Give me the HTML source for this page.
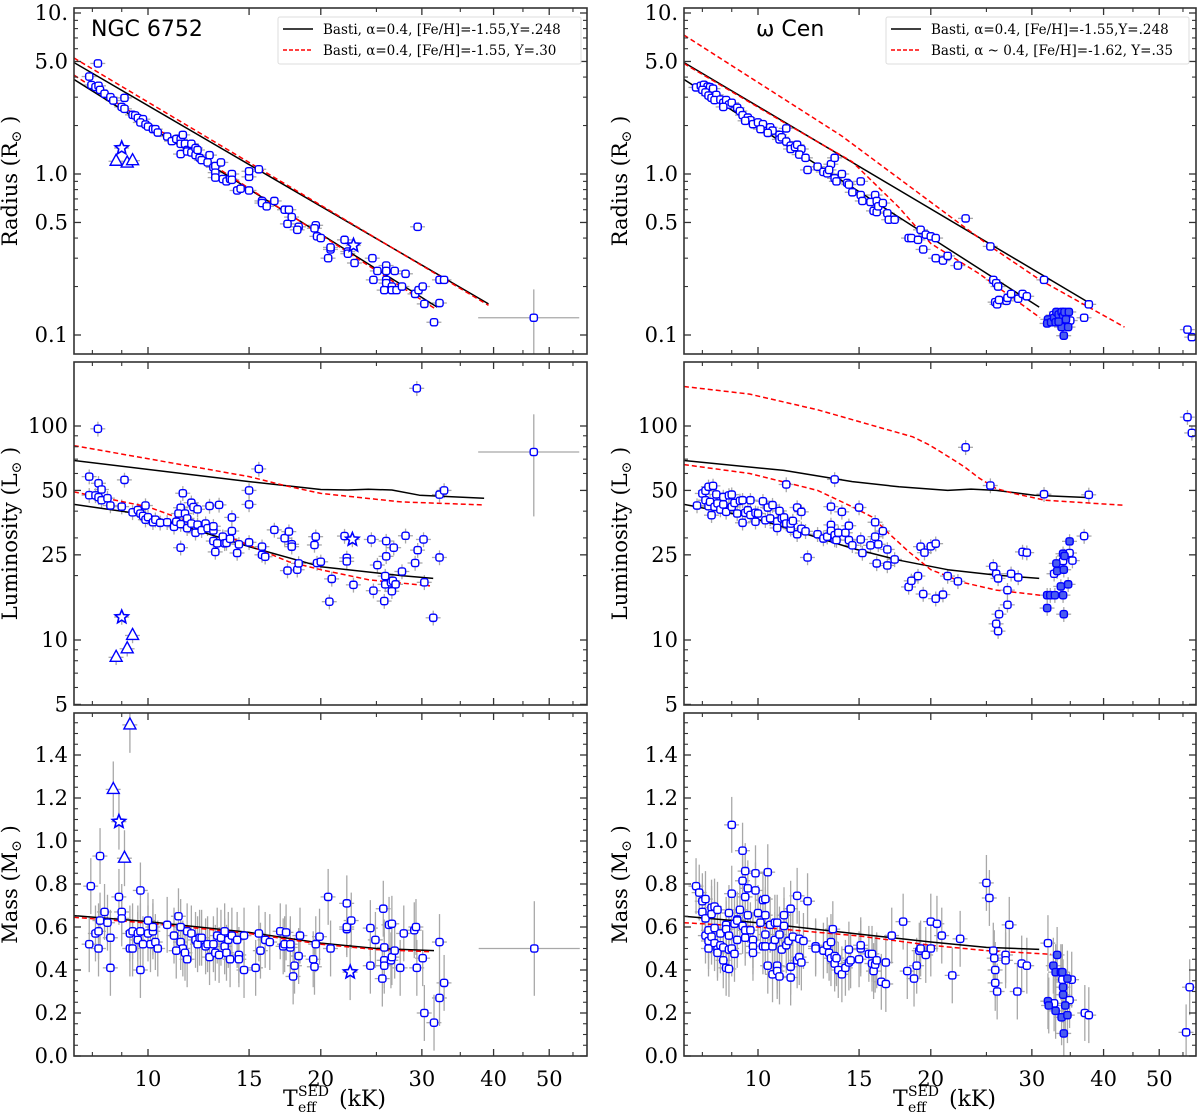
<!DOCTYPE html>
<html><head><meta charset="utf-8"><style>
html,body{margin:0;padding:0;background:#fff;}
svg{display:block;}
text{font-family:"DejaVu Serif","Liberation Serif",serif;fill:#000;}
</style></head><body>
<svg id="chart" width="1200" height="1114" viewBox="0 0 1200 1114" xmlns="http://www.w3.org/2000/svg"></svg>
<script>
// ---------------- DATA ----------------
const ngcRadius = [[8.18,4.86],[7.9,4.03],[7.97,3.57],[8.1,3.47],[8.2,3.53],[8.25,3.33],[8.4,3.15],[8.6,3.0],[8.7,2.86],[9.1,2.97],[9.0,2.61],[9.1,2.54],[9.4,2.33],[9.5,2.31],[9.6,2.23],[9.8,2.19],[9.7,2.09],[9.9,2.03],[10.0,1.97],[10.2,1.9],[10.3,1.9],[10.4,1.81],[10.8,1.71],[11.0,1.6],[11.2,1.65],[11.4,1.64],[11.5,1.75],[11.4,1.54],[11.4,1.33],[11.6,1.54],[11.7,1.41],[11.7,1.38],[11.9,1.54],[11.9,1.36],[12.1,1.45],[12.1,1.31],[12.2,1.41],[12.3,1.26],[12.4,1.22],[12.7,1.18],[12.8,1.31],[13.0,1.1],[13.1,1.12],[13.1,1.02],[13.1,0.95],[13.4,1.18],[13.5,0.93],[13.7,0.9],[13.9,0.93],[14.0,1.0],[14.0,0.92],[14.3,0.79],[14.5,0.81],[15.0,0.96],[15.0,1.04],[15.0,0.79],[15.6,1.07],[15.8,0.68],[15.8,0.66],[16.1,0.63],[16.6,0.68],[17.3,0.6],[17.6,0.6],[17.8,0.54],[17.5,0.49],[18.3,0.47],[18.2,0.45],[19.6,0.48],[19.5,0.46],[19.7,0.41],[20.0,0.4],[20.8,0.34],[20.8,0.35],[20.6,0.3],[22.0,0.39],[22.3,0.33],[22.3,0.32],[22.9,0.28],[24.6,0.3],[24.7,0.22],[25.1,0.25],[26,0.27],[26,0.25],[26,0.22],[26,0.21],[25.8,0.19],[26.6,0.2],[26.6,0.19],[26.9,0.25],[27.1,0.19],[27.7,0.2],[28.1,0.24],[29.2,0.18],[29.6,0.19],[29.5,0.47],[30.1,0.2],[30.3,0.156],[31.5,0.12],[32.2,0.158],[32.2,0.22],[32.8,0.22],[47,0.128]];
const ngcRadiusStars = [[9.0,1.45],[22.8,0.36]];
const ngcRadiusTri = [[8.8,1.2],[9.2,1.17],[9.4,1.21]];
const ngcRadBlackA = [[7.43,4.93],[39.2,0.156]];
const ngcRadRedA = [[7.43,5.26],[39.2,0.153]];
const ngcRadBlackB = [[7.43,3.87],[31.9,0.149]];
const ngcRadRedB = [[7.43,4.12],[31.6,0.146]];

const ngcLum = [[7.9,58],[8.18,97],[7.9,47.5],[8.1,47.4],[8.2,54],[8.3,50.5],[8.2,46.5],[8.3,45],[8.5,46],[8.6,42.5],[9.0,42],[9.1,56],[9.4,39.5],[9.6,40.5],[9.7,39],[9.9,42.5],[9.8,38],[9.9,36.5],[10,37.5],[10.2,35.5],[10.3,36.5],[10.5,35.3],[10.8,35.5],[11.1,33.8],[11.2,35.7],[11.4,34.8],[11.4,27],[11.4,41.5],[11.5,48.5],[11.3,39],[11.6,39],[11.7,37],[11.7,33.3],[11.9,43.8],[11.9,35],[12,41.8],[12.2,40.8],[12.1,31.7],[12.2,34.6],[12.4,32.6],[12.6,35],[12.7,33.3],[12.8,42.3],[13,32.5],[13,34],[13.3,42.8],[13,29],[13.2,28.3],[13.1,25.8],[13.5,30.4],[13.6,28.3],[13.7,28.4],[13.9,29.7],[14,37.4],[14,32.3],[14.3,25.5],[14.4,28],[15,50],[15,43],[15,28.6],[15.6,63],[15.8,27.3],[15.8,25],[16,24.5],[16.6,32.7],[17.3,29.9],[17.6,32.1],[17.8,28],[17.8,27.3],[17.5,21.1],[18.2,21.3],[18.3,22.8],[19.6,30.4],[19.5,27.8],[19.7,22.9],[20,23.2],[20.7,15.1],[20.9,19.3],[22,30.6],[22.2,24.2],[22.2,23.3],[22.8,18.1],[24.5,29.5],[24.7,17],[25.1,22.4],[25.8,15.2],[25.9,19.9],[25.9,18.2],[26,29],[26,24.6],[26.5,18.6],[26.6,16.9],[26.8,27],[26.7,18.9],[27,18.2],[27.7,20.9],[28.1,30.7],[29.2,22.9],[29.5,26.3],[29.4,150],[30.2,29.5],[30.3,18.6],[31.4,12.7],[32.2,47.8],[32.8,50],[32.2,24.3],[47,75.6]];
const ngcLumStars = [[9.0,12.8],[22.7,29.5]];
const ngcLumTri = [[8.8,8.3],[9.2,9.1],[9.4,10.5]];
const ngcLumBlackA = [[7.43,69],[15,55],[20,50.5],[22.3,50.2],[24.2,50.6],[26.6,50.2],[29.7,47.5],[38.5,46]];
const ngcLumRedA = [[7.43,81],[15,58],[17.4,52.5],[20,48.4],[27.6,44.2],[38.3,42.8]];
const ngcLumBlackB = [[7.43,43],[10,38.4],[15,27.3],[20,22],[27.6,20],[31.4,19.4]];
const ngcLumRedB = [[7.43,49.2],[10,41.9],[12.7,33.2],[15,27.7],[17.6,23.2],[20,21.3],[24.3,19.1],[31,17.9]];

const ngcMass = [[7.9,0.52],[7.95,0.79],[8.1,0.57],[8.2,0.5],[8.2,0.58],[8.25,0.63],[8.25,0.93],[8.4,0.67],[8.5,0.62],[8.6,0.55],[8.6,0.41],[8.9,0.74],[9.0,0.67],[9.0,0.64],[9.3,0.5],[9.3,0.57],[9.4,0.5],[9.4,0.58],[9.6,0.57],[9.6,0.54],[9.7,0.58],[9.7,0.77],[9.7,0.4],[9.8,0.52],[10,0.63],[10.0,0.57],[10.1,0.52],[10.2,0.58],[10.2,0.6],[10.3,0.53],[10.4,0.5],[10.8,0.61],[11.1,0.56],[11.3,0.65],[11.4,0.53],[11.4,0.6],[11.5,0.5],[11.6,0.48],[11.7,0.45],[11.2,0.49],[11.7,0.58],[11.9,0.57],[12.1,0.54],[12.2,0.52],[12.3,0.55],[12.4,0.55],[12.6,0.51],[12.7,0.52],[12.8,0.46],[13.0,0.52],[13.1,0.48],[13.2,0.56],[13.3,0.47],[13.4,0.55],[13.6,0.58],[13.6,0.51],[13.7,0.48],[13.8,0.54],[13.9,0.45],[14.0,0.56],[14.3,0.54],[14.4,0.47],[14.4,0.45],[14.7,0.56],[14.7,0.4],[15.4,0.41],[15.6,0.57],[15.7,0.49],[16.0,0.54],[16.3,0.53],[17.0,0.58],[17.2,0.51],[17.3,0.52],[17.4,0.575],[17.7,0.505],[17.7,0.52],[18.0,0.42],[17.9,0.37],[18.3,0.465],[18.4,0.56],[19.4,0.45],[19.5,0.415],[19.6,0.52],[19.9,0.555],[20.6,0.74],[20.8,0.5],[22.2,0.71],[22.2,0.59],[22.2,0.6],[22.6,0.63],[24.4,0.595],[24.4,0.42],[24.9,0.54],[25.6,0.36],[25.7,0.685],[25.8,0.505],[25.8,0.445],[25.8,0.42],[26.3,0.61],[26.6,0.615],[26.5,0.445],[26.6,0.46],[26.9,0.49],[27.5,0.41],[27.9,0.57],[29.1,0.585],[29.3,0.6],[29.4,0.41],[30.1,0.455],[30.3,0.2],[31.5,0.155],[32.2,0.53],[32.2,0.27],[32.8,0.34],[47.1,0.5]];
const ngcMassStars = [[8.9,1.09],[22.5,0.39]];
const ngcMassTri = [[8.7,1.24],[9.1,0.92],[9.3,1.54]];
const ngcMassBlack = [[7.43,0.653],[10,0.625],[15,0.575],[20,0.525],[25,0.5],[31.5,0.49]];
const ngcMassRed = [[7.43,0.645],[10,0.618],[15,0.57],[20,0.52],[25,0.495],[31,0.485]];

const ocRadius = [[7.8,3.45],[7.95,3.53],[8.05,3.58],[8.17,3.49],[8.25,3.46],[8.35,3.39],[8.0,3.33],[8.1,3.21],[8.2,3.07],[8.3,2.97],[8.46,3.1],[8.4,2.88],[8.6,2.9],[8.7,2.77],[8.8,2.88],[8.9,2.7],[9.0,2.77],[8.7,2.61],[9.2,2.58],[9.3,2.46],[9.4,2.32],[9.6,2.24],[9.7,2.16],[9.5,2.14],[9.8,2.04],[10.0,2.09],[10.2,2.04],[10.1,1.9],[10.5,1.95],[10.6,1.86],[10.4,1.8],[10.9,1.75],[10.9,1.64],[11.0,1.69],[11.2,1.92],[11.2,1.59],[11.4,1.5],[11.4,1.43],[11.6,1.47],[11.7,1.52],[11.9,1.43],[11.8,1.32],[12.1,1.26],[12.2,1.06],[12.7,1.11],[13.0,1.03],[13.2,1.01],[13.4,1.15],[13.3,1.06],[13.6,0.94],[13.7,0.9],[13.6,1.26],[14.0,1.0],[14.3,0.88],[14.4,0.86],[14.6,0.77],[15.1,0.9],[15.1,0.74],[15.2,0.68],[15.7,0.67],[16.0,0.74],[16.1,0.68],[15.9,0.59],[16.1,0.58],[16.2,0.63],[16.5,0.66],[16.8,0.57],[16.9,0.52],[17.3,0.52],[18.3,0.4],[18.5,0.4],[19.0,0.39],[19.2,0.45],[19.4,0.34],[19.6,0.42],[20,0.41],[20.4,0.4],[20.4,0.3],[21.0,0.29],[21.4,0.31],[22.3,0.27],[23.0,0.53],[25.4,0.355],[25.7,0.22],[26,0.21],[26.2,0.2],[25.9,0.16],[26.1,0.155],[26.3,0.165],[27.1,0.163],[27.2,0.17],[27.6,0.18],[28.4,0.168],[28.9,0.18],[29.4,0.174],[31.5,0.22],[37,0.128],[37.7,0.155],[56,0.108],[57,0.097],[32.7,0.133],[35,0.123]];
const ocRadiusFilled = [[32,0.125],[31.9,0.118],[32.4,0.12],[32.8,0.128],[33.1,0.139],[33.4,0.134],[33.8,0.139],[34,0.131],[34.2,0.139],[33.8,0.118],[34.4,0.125],[33.8,0.112],[34.7,0.112],[34.8,0.139],[34.1,0.099],[33.0,0.12],[33.4,0.121]];
const ocRadBlackA = [[7.43,4.93],[37.8,0.158]];
const ocRadRedA = [[7.43,7.3],[14,1.72],[25.4,0.355],[31,0.22],[43.5,0.112]];
const ocRadBlackB = [[7.43,3.87],[30.9,0.149]];
const ocRadRedB = [[7.43,4.86],[11.1,2.09],[14.6,1.19],[17.6,0.62],[20,0.37],[24.3,0.24],[31,0.128]];

const ocLum = [[7.83,42.5],[8.0,48.4],[8.1,49.8],[8.2,52],[8.35,52.5],[8.1,45],[8.2,42.2],[8.25,44.2],[8.4,41.9],[8.3,38.3],[8.46,47.9],[8.5,43.5],[8.6,40.7],[8.7,43],[8.7,46.6],[8.8,39.7],[8.9,47.4],[9.0,47.8],[9.0,41.9],[9.1,43.7],[9.2,39],[9.3,44.7],[9.4,45],[9.5,39.3],[9.4,35.3],[9.6,40.4],[9.7,45],[9.7,38.4],[9.9,35.7],[9.9,39.3],[10.0,39],[10.2,44.5],[10.3,36.3],[10.4,41.6],[10.5,37],[10.6,42.7],[10.8,35.8],[10.8,33.4],[10.9,40.1],[11.0,37],[11.1,37.4],[11.2,35],[11.4,33.1],[11.4,35],[11.5,36],[11.7,41.6],[11.7,31.2],[11.9,33.1],[11.9,39.7],[12.1,32.2],[12.2,24.3],[11.2,53.3],[12.7,31.2],[13.0,29.8],[13.2,30.4],[13.4,34.5],[13.4,32.4],[13.4,42],[13.6,29.5],[13.6,30.9],[13.7,29.3],[13.8,31.7],[14.0,39.7],[14.2,31.7],[14.4,34.2],[14.4,29.3],[14.6,27.7],[15.0,41.6],[15.1,29.5],[15.2,25.5],[13.6,56.3],[15.7,27.7],[16.0,35.5],[16.0,30.4],[16.1,22.8],[16.2,28],[16.5,32.3],[16.8,26.5],[16.8,22.3],[17.3,23.8],[18.3,17.7],[18.5,18.9],[19.0,19.9],[19.2,27.3],[19.5,25.6],[19.4,16.4],[20,27.4],[20.4,28.2],[20.4,15.6],[21.0,16.3],[21.4,19.9],[22.3,18.8],[23.0,79.5],[25.4,52.7],[25.7,22.1],[26,20.4],[26.2,19.4],[26.3,13.2],[26,11.9],[26.2,11],[27.2,17.1],[27.2,14.6],[27.6,20.4],[28.4,19.6],[28.9,25.8],[29.4,25.6],[31.5,48],[37.7,47.7],[37,30.6],[56,110],[57,92.8],[32.8,20.4],[34,23.4],[34.9,25.5],[35.3,23.5]];
const ocLumFilled = [[31.9,16.2],[32.3,16.2],[32.9,16.2],[31.9,14.1],[33.1,22.8],[33.2,21.0],[33.7,17.8],[34,16.2],[34.1,21.3],[34,25.3],[34.2,24.7],[34.7,18.2],[34.9,28.9],[34.1,13.2]];
const ocLumBlackA = [[7.43,69],[11.1,62],[14.6,55],[17.6,52],[21.4,50],[23.5,50.7],[26,50],[30.3,47.5],[37.8,46.3]];
const ocLumRedA = [[7.43,153],[9.67,141],[12.7,119],[16.6,97],[18.6,89],[19.8,82],[20.6,77],[21.8,70],[22.9,64.4],[24.3,57],[26,51],[27.9,48.4],[31.6,45],[43.5,42.6]];
const ocLumBlackB = [[7.43,43],[9.67,37.6],[11.8,32],[14.6,26.8],[17.6,23.6],[21.4,21.3],[26,20.1],[30.9,19.4]];
const ocLumRedB = [[7.43,66],[9.67,60],[12.7,50],[14.6,41.9],[15.8,37.6],[16.9,31.5],[18.3,25.9],[20,21.3],[22.9,18.5],[26,17.1],[31,16.2]];

const ocMass = [[7.8,0.79],[7.9,0.76],[8.0,0.72],[8.1,0.73],[8.0,0.67],[8.1,0.56],[8.1,0.64],[8.2,0.535],[8.2,0.5],[8.2,0.585],[8.3,0.69],[8.3,0.66],[8.3,0.555],[8.4,0.695],[8.4,0.525],[8.4,0.595],[8.5,0.495],[8.5,0.68],[8.5,0.48],[8.6,0.57],[8.6,0.515],[8.7,0.505],[8.7,0.445],[8.8,0.61],[8.8,0.41],[8.8,0.59],[8.9,0.665],[8.9,0.56],[8.9,0.495],[8.9,0.405],[9.0,1.075],[9.0,0.755],[9.0,0.5],[9.1,0.475],[9.1,0.615],[9.2,0.635],[9.2,0.54],[9.2,0.63],[9.3,0.68],[9.4,0.955],[9.4,0.605],[9.4,0.815],[9.5,0.55],[9.5,0.86],[9.5,0.74],[9.5,0.585],[9.6,0.78],[9.6,0.655],[9.7,0.585],[9.8,0.54],[9.8,0.51],[9.8,0.48],[9.9,0.85],[9.9,0.77],[10,0.665],[10.1,0.62],[10.2,0.51],[10.2,0.725],[10.3,0.565],[10.3,0.73],[10.3,0.655],[10.3,0.51],[10.4,0.855],[10.4,0.42],[10.5,0.61],[10.6,0.51],[10.6,0.38],[10.7,0.54],[10.7,0.62],[10.8,0.42],[10.8,0.62],[10.8,0.395],[10.9,0.37],[10.9,0.565],[11.0,0.495],[11.1,0.655],[11.1,0.605],[11.2,0.515],[11.3,0.535],[11.4,0.685],[11.4,0.415],[11.4,0.365],[11.5,0.555],[11.7,0.745],[11.7,0.445],[11.8,0.545],[11.8,0.46],[11.9,0.435],[12.0,0.535],[12.2,0.72],[12.6,0.51],[12.6,0.5],[13.0,0.49],[13.2,0.515],[13.3,0.48],[13.4,0.53],[13.4,0.455],[13.5,0.59],[13.6,0.465],[13.6,0.43],[13.7,0.455],[13.8,0.4],[14.0,0.38],[14.2,0.41],[14.4,0.495],[14.4,0.435],[14.5,0.445],[15.0,0.45],[15.1,0.5],[15.1,0.515],[15.6,0.475],[15.8,0.475],[15.8,0.43],[15.9,0.395],[16.0,0.425],[16.1,0.445],[16.4,0.345],[16.7,0.435],[16.7,0.335],[17.1,0.56],[17.9,0.625],[18.2,0.395],[18.7,0.36],[18.9,0.42],[19.1,0.49],[19.2,0.5],[19.6,0.47],[20.0,0.5],[20.0,0.625],[20.5,0.615],[20.9,0.56],[21.8,0.375],[22.5,0.545],[25.0,0.805],[25.3,0.735],[25.7,0.49],[25.8,0.455],[25.9,0.4],[25.9,0.34],[26.1,0.3],[27.0,0.47],[27.0,0.445],[27.4,0.61],[28.3,0.3],[28.8,0.43],[29.4,0.42],[32,0.525],[32.8,0.245],[37.1,0.2],[37.7,0.19],[56.5,0.32],[55.7,0.11],[33.9,0.355],[34.9,0.26],[35.2,0.355]];
const ocMassFilled = [[32,0.255],[32.1,0.235],[32.7,0.42],[33,0.39],[33.2,0.47],[33.7,0.39],[33.9,0.39],[34,0.32],[34,0.285],[34.3,0.235],[33,0.21],[33.8,0.18],[34.6,0.19],[34.1,0.105],[34.6,0.36]];
const ocMassBlack = [[7.43,0.65],[10,0.62],[15,0.567],[20,0.53],[25,0.505],[30.9,0.496]];
const ocMassRed = [[7.43,0.62],[10,0.6],[15,0.558],[20,0.515],[25,0.49],[32.4,0.473]];

const xMajor = [10,15,20,30,40,50];
const xMinor = [8,9,25,35,45,55];
const radTicks = [10,5,1,0.5,0.1];
const radLabels = ['10.','5.0','1.0','0.5','0.1'];
const lumTicks = [5,10,25,50,100];
const lumLabels = ['5','10','25','50','100'];
const massTicks = [0,0.2,0.4,0.6,0.8,1.0,1.2,1.4];
const massLabels = ['0.0','0.2','0.4','0.6','0.8','1.0','1.2','1.4'];

// ---------------- DRAWING ----------------
const NS='http://www.w3.org/2000/svg';
const svg=document.getElementById('chart');
const COLX=[74,684], COLW=[513,512];
const ROWY=[[8,354],[362,705],[713,1056]];
function xs(c,T){return COLX[c]+74+574*Math.log10(T/10);}
function ysRad(v){return 174-161*Math.log10(v);}
function ysLum(v){return 426-214*Math.log10(v/100);}
function ysMass(v){return 1056-215*v;}
const YS=[ysRad,ysLum,ysMass];
function mk(tag,attrs,parent){const e=document.createElementNS(NS,tag);for(const k in attrs)e.setAttribute(k,attrs[k]);(parent||svg).appendChild(e);return e;}

function clipFor(c,r){
  const id='clip'+c+r;
  const cp=mk('clipPath',{id:id});
  mk('rect',{x:COLX[c],y:ROWY[r][0],width:COLW[c],height:ROWY[r][1]-ROWY[r][0]},cp);
  return 'url(#'+id+')';
}

function drawErrors(g,c,r,pts,isLog){
  pts.forEach(p=>{
    const T=p[0],v=p[1];
    const big = T>45 && c===0;
    const ex = big?0.2:0.03, ey = isLog?(big?0.5:(r===1?0.08:0.03)):(big?0.22:0.13);
    const x=xs(c,T), y=YS[r](v);
    const ya = isLog?YS[r](v*(1+ey)):YS[r](v+ey), yb = isLog?YS[r](v*(1-ey)):YS[r](v-ey);
    const e1=mk('line',{x1:x,x2:x,y1:ya,y2:yb,stroke:'#a8a8a8','stroke-width':1.3},g);
    
    
    const e2=mk('line',{x1:xs(c,T*(1-ex)),x2:xs(c,T*(1+ex)),y1:y,y2:y,stroke:'#a8a8a8','stroke-width':1.3},g);
    
    
  });
}
function drawCurve(g,c,r,pts,red){
  const d=pts.map((p,i)=>(i?'L':'M')+xs(c,p[0]).toFixed(1)+','+YS[r](p[1]).toFixed(1)).join(' ');
  const el=mk('path',{d:d,fill:'none',stroke:red?'#ff0000':'#000','stroke-width':1.5,'stroke-dasharray':red?'5,3':'none','stroke-linejoin':'round'},g);
  
  
}
function starPath(x,y,R){let d='';for(let i=0;i<10;i++){const a=-Math.PI/2+i*Math.PI/5;const rr=i%2?R*0.45:R;d+=(i?'L':'M')+(x+rr*Math.cos(a)).toFixed(1)+','+(y+rr*Math.sin(a)).toFixed(1);}return d+'Z';}
function drawMarkers(g,c,r,pts,kind){
  pts.forEach(p=>{
    const x=xs(c,p[0]), y=YS[r](p[1]);
    let el;
    if(kind==='o'||kind==='f'){
      el=mk('rect',{x:x-3.6,y:y-3.6,width:7.2,height:7.2,rx:2.2,fill:kind==='f'?'#4a5cf0':'#fff',stroke:'#0000ff','stroke-width':1.4},g);
      
    } else if(kind==='s'){
      el=mk('path',{d:starPath(x,y,7),fill:'#fff',stroke:'#0000ff','stroke-width':1.6},g);
      
    } else {
      el=mk('path',{d:'M'+x+','+(y-7)+'L'+(x+6)+','+(y+4)+'L'+(x-6)+','+(y+4)+'Z',fill:'#fff',stroke:'#0000ff','stroke-width':1.4},g);
      
    }
    
  });
}

function drawAxes(c,r){
  const x0=COLX[c],x1=x0+COLW[c],y0=ROWY[r][0],y1=ROWY[r][1];
  const g=mk('g',{});
  
  
  mk('rect',{x:x0,y:y0,width:x1-x0,height:y1-y0,fill:'none',stroke:'#333','stroke-width':1.6},g);
  xMajor.forEach(t=>{const x=xs(c,t);mk('line',{x1:x,x2:x,y1:y1,y2:y1-7,stroke:'#333','stroke-width':1.3},g);mk('line',{x1:x,x2:x,y1:y0,y2:y0+7,stroke:'#333','stroke-width':1.3},g);
    if(r===2){const tl=mk('text',{x:x,y:y1+30,'font-size':21,'text-anchor':'middle'},g);tl.textContent=t;
      
      }});
  xMinor.forEach(t=>{const x=xs(c,t);if(x<x1){mk('line',{x1:x,x2:x,y1:y1,y2:y1-4,stroke:'#333','stroke-width':1.1},g);mk('line',{x1:x,x2:x,y1:y0,y2:y0+4,stroke:'#333','stroke-width':1.1},g);}});
  const ticks=[radTicks,lumTicks,massTicks][r], labels=[radLabels,lumLabels,massLabels][r];
  ticks.forEach((t,i)=>{const y=YS[r](t);
    mk('line',{x1:x0,x2:x0+7,y1:y,y2:y,stroke:'#333','stroke-width':1.3},g);mk('line',{x1:x1,x2:x1-7,y1:y,y2:y,stroke:'#333','stroke-width':1.3},g);
    const tl=mk('text',{x:x0-6,y:y+7,'font-size':21,'text-anchor':'end'},g);tl.textContent=labels[i];
    
    });
  let minors=[];
  if(r===0){[0.1,1].forEach(b=>[2,3,4,6,7,8,9].forEach(m=>minors.push(b*m)));}
  if(r===1){[6,7,8,9,20,30,40,60,70,80,90].forEach(m=>minors.push(m));}
  if(r===2){for(let k=1;k<32;k++){if(k%4)minors.push(k*0.05);}}
  minors.forEach(t=>{const y=YS[r](t);if(y>y0&&y<y1){mk('line',{x1:x0,x2:x0+4,y1:y,y2:y,stroke:'#333','stroke-width':1.1},g);mk('line',{x1:x1,x2:x1-4,y1:y,y2:y,stroke:'#333','stroke-width':1.1},g);}});
  const names=['Radius (R','Luminosity (L','Mass (M'];
  const cy=(y0+y1)/2, lx=x0-57;
  const yl=mk('text',{x:lx,y:cy,'font-size':21,'text-anchor':'middle',transform:'rotate(-90 '+lx+' '+cy+')'});
  
  
  const t1=mk('tspan',{},yl);t1.textContent=names[r];
  const t2=mk('tspan',{'font-size':14,dy:4},yl);t2.textContent='\u2299';
  const t3=mk('tspan',{dy:-4},yl);t3.textContent=' )';
}

const panels=[
 {c:0,r:0,pts:ngcRadius,sp:ngcRadiusStars,tri:ngcRadiusTri,curves:[[ngcRadBlackA,0],[ngcRadRedA,1],[ngcRadBlackB,0],[ngcRadRedB,1]],log:true},
 {c:0,r:1,pts:ngcLum,sp:ngcLumStars,tri:ngcLumTri,curves:[[ngcLumBlackA,0],[ngcLumRedA,1],[ngcLumBlackB,0],[ngcLumRedB,1]],log:true},
 {c:0,r:2,pts:ngcMass,sp:ngcMassStars,tri:ngcMassTri,curves:[[ngcMassBlack,0],[ngcMassRed,1]],log:false},
 {c:1,r:0,pts:ocRadius,fill:ocRadiusFilled,curves:[[ocRadBlackA,0],[ocRadRedA,1],[ocRadBlackB,0],[ocRadRedB,1]],log:true},
 {c:1,r:1,pts:ocLum,fill:ocLumFilled,curves:[[ocLumBlackA,0],[ocLumRedA,1],[ocLumBlackB,0],[ocLumRedB,1]],log:true},
 {c:1,r:2,pts:ocMass,fill:ocMassFilled,curves:[[ocMassBlack,0],[ocMassRed,1]],log:false}
];
const pnames=[['ngc6752-radius-panel','ngc6752-luminosity-panel','ngc6752-mass-panel'],['omega-cen-radius-panel','omega-cen-luminosity-panel','omega-cen-mass-panel']];
panels.forEach(P=>{
  const g=mk('g',{'clip-path':clipFor(P.c,P.r)});
  
  
  drawErrors(g,P.c,P.r,P.pts.concat(P.fill||[],P.sp||[],P.tri||[]),P.log);
  P.curves.forEach(cv=>drawCurve(g,P.c,P.r,cv[0],cv[1]));
  drawMarkers(g,P.c,P.r,P.pts,'o');
  if(P.fill)drawMarkers(g,P.c,P.r,P.fill,'f');
  if(P.sp)drawMarkers(g,P.c,P.r,P.sp,'s');
  if(P.tri)drawMarkers(g,P.c,P.r,P.tri,'t');
  drawAxes(P.c,P.r);
});

[0,1].forEach(c=>{
  const bx=COLX[c]+209, by=1106;
  const g=mk('g',{});
  
  
  const a=mk('text',{x:bx,y:by,'font-size':22},g);a.textContent='T';
  const b=mk('text',{x:bx+15,y:by-10,'font-size':14},g);b.textContent='SED';
  const d=mk('text',{x:bx+15,y:by+6,'font-size':14},g);d.textContent='eff';
  const e=mk('text',{x:bx+56,y:by,'font-size':22},g);e.textContent='(kK)';
});

const titles=[['NGC 6752',91],['\u03c9 Cen',756]];
titles.forEach((t,i)=>{const el=mk('text',{x:t[1],y:36,'font-size':22,style:'font-family:"DejaVu Sans","Liberation Sans",sans-serif'});el.textContent=t[0];
  
  });
const legendText=[['Basti, \u03b1=0.4, [Fe/H]=-1.55,Y=.248','Basti, \u03b1=0.4, [Fe/H]=-1.55, Y=.30'],['Basti, \u03b1=0.4, [Fe/H]=-1.55,Y=.248','Basti, \u03b1 ~ 0.4, [Fe/H]=-1.62, Y=.35']];
const legX=[278,886];
[0,1].forEach(c=>{
  const g=mk('g',{});
  
  
  const x=legX[c];
  mk('rect',{x:x,y:17,width:303,height:47,fill:'#fff',stroke:'#ddd','stroke-width':1,rx:2},g);
  [0,1].forEach(i=>{
    const y=29+i*21;
    mk('line',{x1:x+5,x2:x+35,y1:y,y2:y,stroke:i?'#ff0000':'#000','stroke-width':1.5,'stroke-dasharray':i?'4,2':'none'},g);
    const t=mk('text',{x:x+45,y:y+5,'font-size':13.5},g);t.textContent=legendText[c][i];
    
    
  });
});
</script>
</body></html>
